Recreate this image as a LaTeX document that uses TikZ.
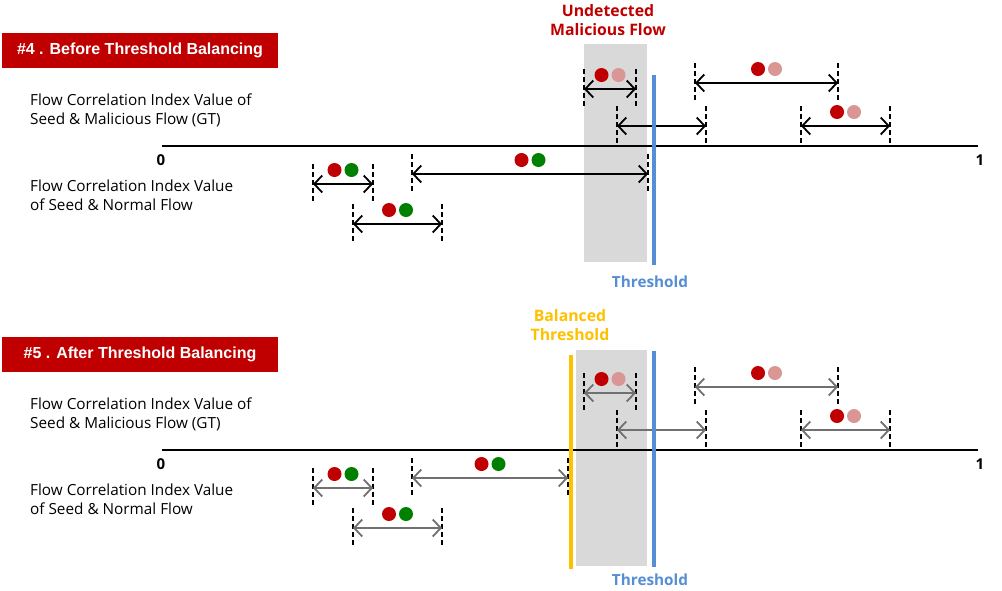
\documentclass[tikz,border=0pt]{standalone}
\usepackage{fontspec}
\setmainfont{Open Sans}
\newfontfamily\bannerfont{Liberation Sans}
\usetikzlibrary{arrows.meta,calc}

\definecolor{bannerred}{RGB}{192,0,0}
\definecolor{dotred}{RGB}{192,0,0}
\definecolor{dotpink}{RGB}{218,150,148}
\definecolor{dotgreen}{RGB}{0,128,0}
\definecolor{zonegray}{RGB}{217,217,217}
\definecolor{threshblue}{RGB}{85,142,213}
\definecolor{balyellow}{RGB}{255,192,0}
\definecolor{spangray}{RGB}{112,112,112}

\tikzset{
    banner/.style={fill=bannerred, text=white, minimum width=276pt, minimum height=35pt,
        inner sep=0pt, font=\bannerfont\bfseries\fontsize{16}{18}\selectfont},
    flowlabel/.style={anchor=west, align=left, inner sep=0pt,
        font=\fontsize{15.3}{19}\selectfont},
    axisnum/.style={inner sep=0pt, font=\fontsize{15}{17}\selectfont\bfseries},
    redtitle/.style={align=center, inner sep=0pt, text=bannerred,
        font=\bfseries\fontsize{15.8}{19}\selectfont},
    bluetitle/.style={inner sep=0pt, text=threshblue, font=\bfseries\fontsize{15.3}{17}\selectfont},
    yellowtitle/.style={align=center, inner sep=0pt, text=balyellow,
        font=\bfseries\fontsize{15.8}{19}\selectfont},
    axisline/.style={line width=1.8pt},
    threshline/.style={threshblue, line width=3.5pt},
    balline/.style={balyellow, line width=4.5pt},
    tickline/.style={line width=1.8pt, dash pattern=on 5pt off 3pt},
    span/.style={{Straight Barb[length=8pt,width=17pt]}-{Straight Barb[length=8pt,width=17pt]},
        line width=1.8pt},
    dot/.style={circle, minimum size=14pt, inner sep=0pt},
}

\begin{document}
\begin{tikzpicture}[x=1pt, y=-1pt]
    \useasboundingbox (0,0) rectangle (1002,590);

    % #4 : before threshold balancing
    \fill[zonegray] (584,44) rectangle (647,262);
    \node[banner] (bannerA) at (140,50.5) {\#4 . Before Threshold Balancing};
    \node[redtitle] (undetA) at (608,20) {Undetected\\Malicious Flow};

    \node[flowlabel] (malA) at (30,110.5) {Flow Correlation Index Value of\\Seed \& Malicious Flow (GT)};
    \node[flowlabel] (normA) at (30,195.5) {Flow Correlation Index Value\\of Seed \& Normal Flow};

    % Axis
    \node[axisnum] (zeroA) at (161,160) {0};
    \node[axisnum] (oneA) at (980,160) {1};
    \coordinate (axisA-l) at (162,146);
    \coordinate (axisA-r) at (978,146);
    \draw[axisline] (axisA-l) -- (axisA-r);

    % Intervals (name/left/right/height)
    \foreach \n/\xa/\xb/\y in {m1/584/636/89, m2/695/838/83, m3/617/706/126, m4/801/890/126,
                               n1/313/373/184, n2/412/648/174, n3/353/442/224} {
        \coordinate (A-\n-l) at (\xa,\y);
        \coordinate (A-\n-r) at (\xb,\y);
        \draw[tickline] ([yshift=20pt]A-\n-l) -- ([yshift=-19pt]A-\n-l);
        \draw[tickline] ([yshift=20pt]A-\n-r) -- ([yshift=-19pt]A-\n-r);
        \draw[span] (A-\n-l) -- (A-\n-r);
    }
    \foreach \n/\c in {m1/dotpink, m2/dotpink, m4/dotpink, n1/dotgreen, n2/dotgreen, n3/dotgreen} {
        \coordinate (A-\n-m) at ($(A-\n-l)!0.5!(A-\n-r)$);
        \node[dot, fill=dotred] (A-\n-d1) at ([shift={(-8.5,-14)}]A-\n-m) {};
        \node[dot, fill=\c] (A-\n-d2) at ([shift={(8.5,-14)}]A-\n-m) {};
    }

    % Threshold
    \coordinate (threshA-t) at (654,75);
    \coordinate (threshA-b) at (654,265);
    \draw[threshline] (threshA-t) -- (threshA-b);
    \node[bluetitle] (threshA) at (650,282) {Threshold};

    % #5 : after threshold balancing
    \begin{scope}[yshift=-304pt]
        \fill[zonegray] (576,46) rectangle (647,262);
        \node[banner] (bannerB) at (140,50.5) {\#5 . After Threshold Balancing};
        \node[yellowtitle] (balB) at (570,21.5) {Balanced\\Threshold};

        \node[flowlabel] (malB) at (30,110.5) {Flow Correlation Index Value of\\Seed \& Malicious Flow (GT)};
        \node[flowlabel] (normB) at (30,195.5) {Flow Correlation Index Value\\of Seed \& Normal Flow};

        % Axis
        \node[axisnum] (zeroB) at (161,160) {0};
        \node[axisnum] (oneB) at (980,160) {1};
        \coordinate (axisB-l) at (162,146);
        \coordinate (axisB-r) at (978,146);
        \draw[axisline] (axisB-l) -- (axisB-r);

        % Intervals, grey arrows
        \foreach \n/\xa/\xb/\y in {m1/584/636/89, m2/695/838/83, m3/617/706/126, m4/801/890/126,
                                   n1/313/373/184, n2/412/568/174, n3/353/442/224} {
            \coordinate (B-\n-l) at (\xa,\y);
            \coordinate (B-\n-r) at (\xb,\y);
            \draw[tickline] ([yshift=20pt]B-\n-l) -- ([yshift=-19pt]B-\n-l);
            \draw[tickline] ([yshift=20pt]B-\n-r) -- ([yshift=-19pt]B-\n-r);
            \draw[span, spangray] (B-\n-l) -- (B-\n-r);
        }
        \foreach \n/\c in {m1/dotpink, m2/dotpink, m4/dotpink, n1/dotgreen, n2/dotgreen, n3/dotgreen} {
            \coordinate (B-\n-m) at ($(B-\n-l)!0.5!(B-\n-r)$);
            \node[dot, fill=dotred] (B-\n-d1) at ([shift={(-8.5,-14)}]B-\n-m) {};
            \node[dot, fill=\c] (B-\n-d2) at ([shift={(8.5,-14)}]B-\n-m) {};
        }

        % Balanced threshold and old threshold
        \coordinate (balB-t) at (571,51);
        \coordinate (balB-b) at (571,265);
        \draw[balline] (balB-t) -- (balB-b);
        \coordinate (threshB-t) at (654,47);
        \coordinate (threshB-b) at (654,263);
        \draw[threshline] (threshB-t) -- (threshB-b);
        \node[bluetitle] (threshB) at (650,276) {Threshold};
    \end{scope}
\end{tikzpicture}
\end{document}
